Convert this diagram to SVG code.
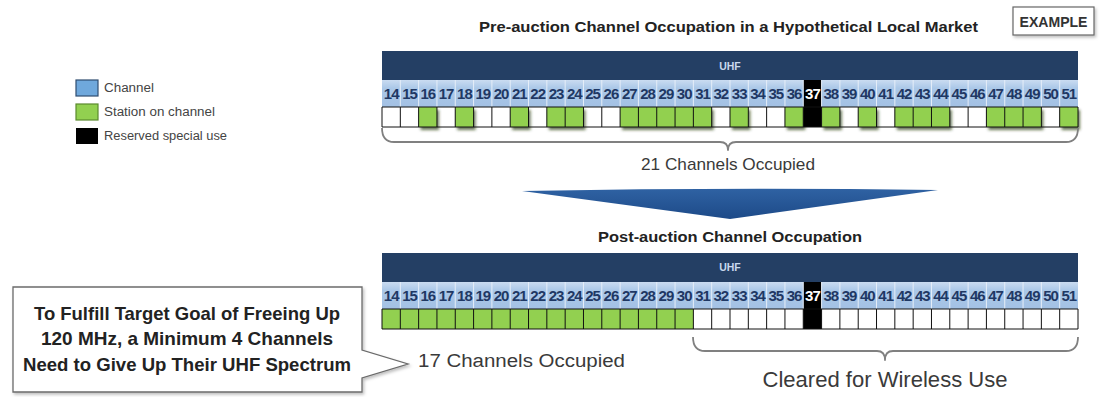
<svg xmlns="http://www.w3.org/2000/svg" xmlns:xlink="http://www.w3.org/1999/xlink" width="1102" height="397" viewBox="0 0 1102 397">
<style>
.title{font-family:"Liberation Sans",Arial,sans-serif;font-weight:bold;font-size:14px;fill:#222}
.num{font-family:"Liberation Sans",Arial,sans-serif;font-weight:bold;font-size:15px;fill:#1f3864;text-anchor:middle;letter-spacing:-1px}
.uhf{font-family:"Liberation Sans",Arial,sans-serif;font-weight:bold;font-size:10.5px;fill:#c9d9ee;text-anchor:middle}
.band{fill:#243f64}
.numrow{fill:url(#numGrad)}
.div{stroke:#e6eef8;stroke-width:1;fill:none}
.cellline{stroke:#111;stroke-width:1;fill:none}
.green{fill:#92d050}
.res{fill:#000}
.brace{fill:none;stroke:#808080;stroke-width:1.8;stroke-linejoin:round}
.lab{font-family:"Liberation Sans",Arial,sans-serif;fill:#3a3a3a;text-anchor:middle}
.leg{font-family:"Liberation Sans",Arial,sans-serif;font-size:12px;fill:#444}
.call{font-family:"Liberation Sans",Arial,sans-serif;font-weight:bold;font-size:18.5px;fill:#222;text-anchor:middle}
</style>
<defs>
<linearGradient id="numGrad" x1="0" y1="0" x2="0" y2="1">
<stop offset="0" stop-color="#cadcf1"/><stop offset="0.3" stop-color="#abc8e8"/><stop offset="1" stop-color="#a3c1e4"/>
</linearGradient>
<linearGradient id="chevGrad" x1="0" y1="0" x2="0" y2="1">
<stop offset="0" stop-color="#2f62a3"/><stop offset="1" stop-color="#1d4a88"/>
</linearGradient>
<filter id="sh" x="-40%" y="-40%" width="200%" height="200%">
<feDropShadow dx="2" dy="3" stdDeviation="1.8" flood-color="#2b3a12" flood-opacity="0.7"/>
</filter>
<filter id="boxsh" x="-10%" y="-10%" width="120%" height="130%">
<feDropShadow dx="1.5" dy="2" stdDeviation="1.5" flood-color="#000" flood-opacity="0.25"/>
</filter>
<path id="numDiv" d="M400.32,0v27M418.63,0v27M436.95,0v27M455.26,0v27M473.58,0v27M491.89,0v27M510.21,0v27M528.53,0v27M546.84,0v27M565.16,0v27M583.47,0v27M601.79,0v27M620.11,0v27M638.42,0v27M656.74,0v27M675.05,0v27M693.37,0v27M711.68,0v27M730,0v27M748.32,0v27M766.63,0v27M784.95,0v27M803.26,0v27M821.58,0v27M839.89,0v27M858.21,0v27M876.53,0v27M894.84,0v27M913.16,0v27M931.47,0v27M949.79,0v27M968.11,0v27M986.42,0v27M1004.74,0v27M1023.05,0v27M1041.37,0v27M1059.68,0v27"/>
<path id="cellLines" d="M400.32,0v20M418.63,0v20M436.95,0v20M455.26,0v20M473.58,0v20M491.89,0v20M510.21,0v20M528.53,0v20M546.84,0v20M565.16,0v20M583.47,0v20M601.79,0v20M620.11,0v20M638.42,0v20M656.74,0v20M675.05,0v20M693.37,0v20M711.68,0v20M730,0v20M748.32,0v20M766.63,0v20M784.95,0v20M803.26,0v20M821.58,0v20M839.89,0v20M858.21,0v20M876.53,0v20M894.84,0v20M913.16,0v20M931.47,0v20M949.79,0v20M968.11,0v20M986.42,0v20M1004.74,0v20M1023.05,0v20M1041.37,0v20M1059.68,0v20M382,0h696v20h-696z"/>
<g id="nums">
<text class="num" x="391.16">14</text><text class="num" x="409.48">15</text><text class="num" x="427.79">16</text><text class="num" x="446.11">17</text><text class="num" x="464.42">18</text><text class="num" x="482.74">19</text><text class="num" x="501.05">20</text><text class="num" x="519.37">21</text><text class="num" x="537.69">22</text><text class="num" x="556">23</text><text class="num" x="574.32">24</text><text class="num" x="592.63">25</text><text class="num" x="610.95">26</text><text class="num" x="629.27">27</text><text class="num" x="647.58">28</text><text class="num" x="665.9">29</text><text class="num" x="684.21">30</text><text class="num" x="702.53">31</text><text class="num" x="720.84">32</text><text class="num" x="739.16">33</text><text class="num" x="757.48">34</text><text class="num" x="775.79">35</text><text class="num" x="794.11">36</text><text class="num" x="812.42" style="fill:#fff">37</text><text class="num" x="830.74">38</text><text class="num" x="849.05">39</text><text class="num" x="867.37">40</text><text class="num" x="885.69">41</text><text class="num" x="904">42</text><text class="num" x="922.32">43</text><text class="num" x="940.63">44</text><text class="num" x="958.95">45</text><text class="num" x="977.27">46</text><text class="num" x="995.58">47</text><text class="num" x="1013.9">48</text><text class="num" x="1032.21">49</text><text class="num" x="1050.53">50</text><text class="num" x="1068.84">51</text>
</g>
</defs>
<rect width="1102" height="397" fill="#fff"/>

<g id="legend">
<rect x="76" y="80" width="22" height="16" fill="#6fa8dc" stroke="#2f4d70" stroke-width="1.2"/>
<text class="leg" x="104" y="92" textLength="50" lengthAdjust="spacingAndGlyphs">Channel</text>
<rect x="76" y="104" width="22" height="16" fill="#92d050" stroke="#5b8a2e" stroke-width="1.2"/>
<text class="leg" x="104" y="116" textLength="111" lengthAdjust="spacingAndGlyphs">Station on channel</text>
<rect x="76" y="128" width="22" height="16" fill="#000"/>
<text class="leg" x="104" y="140" textLength="123" lengthAdjust="spacingAndGlyphs">Reserved special use</text>
</g>

<g id="example-tag">
<rect x="1013" y="7" width="81" height="28" fill="#fff" stroke="#666" stroke-width="1.2" filter="url(#boxsh)"/>
<text class="title" x="1053.5" y="27" text-anchor="middle" textLength="68" lengthAdjust="spacingAndGlyphs" style="fill:#333">EXAMPLE</text>
</g>

<g id="pre-auction">
<text class="title" x="479" y="32" textLength="499" lengthAdjust="spacingAndGlyphs">Pre-auction Channel Occupation in a Hypothetical Local Market</text>
<rect class="band" x="382" y="51" width="696" height="29"/>
<text class="uhf" x="730" y="70">UHF</text>
<rect class="numrow" x="382" y="80" width="696" height="27"/>
<rect class="res" x="803.26" y="80" width="18.32" height="27"/>
<use xlink:href="#numDiv" class="div" transform="translate(0,80)"/>
<use xlink:href="#nums" transform="translate(0,99)"/>
<rect x="382" y="107" width="696" height="20" fill="#fff"/>
<g filter="url(#sh)">
<rect class="green" x="418.63" y="107" width="18.32" height="20"/>
<rect class="green" x="455.26" y="107" width="18.32" height="20"/>
<rect class="green" x="510.21" y="107" width="18.32" height="20"/>
<rect class="green" x="546.84" y="107" width="36.63" height="20"/>
<rect class="green" x="620.11" y="107" width="91.57" height="20"/>
<rect class="green" x="730" y="107" width="18.32" height="20"/>
<rect class="green" x="784.95" y="107" width="18.32" height="20"/>
<rect class="green" x="821.58" y="107" width="18.32" height="20"/>
<rect class="green" x="858.21" y="107" width="18.32" height="20"/>
<rect class="green" x="894.84" y="107" width="54.95" height="20"/>
<rect class="green" x="986.42" y="107" width="54.95" height="20"/>
<rect class="green" x="1059.68" y="107" width="18.32" height="20"/>
</g>
<rect class="res" x="803.26" y="107" width="18.32" height="20"/>
<use xlink:href="#cellLines" class="cellline" transform="translate(0,107)"/>
<path class="brace" d="M382,128Q382,142 394,142H720Q728,142 728,150Q728,142 736,142H1066Q1078,142 1078,128"/>
<text class="lab" x="728" y="170" style="font-size:17px" textLength="174" lengthAdjust="spacingAndGlyphs">21 Channels Occupied</text>
</g>

<g id="transition-arrow">
<path d="M522,191Q730,187 938,190L730,219Z" fill="url(#chevGrad)"/>
</g>

<g id="post-auction">
<text class="title" x="598" y="242" textLength="264" lengthAdjust="spacingAndGlyphs">Post-auction Channel Occupation</text>
<rect class="band" x="382" y="253" width="696" height="29"/>
<text class="uhf" x="730" y="271">UHF</text>
<rect class="numrow" x="382" y="282" width="696" height="27"/>
<rect class="res" x="803.26" y="282" width="18.32" height="27"/>
<use xlink:href="#numDiv" class="div" transform="translate(0,282)"/>
<use xlink:href="#nums" transform="translate(0,301)"/>
<rect x="382" y="309" width="696" height="20" fill="#fff"/>
<rect class="green" x="382" y="309" width="311.37" height="20"/>
<rect class="res" x="803.26" y="309" width="18.32" height="20"/>
<use xlink:href="#cellLines" class="cellline" transform="translate(0,309)"/>
<text class="lab" x="418" y="367" style="font-size:18px;text-anchor:start" textLength="207" lengthAdjust="spacingAndGlyphs">17 Channels Occupied</text>
<path class="brace" d="M693,337Q693,351 705,351H877Q885,351 885,360Q885,351 893,351H1066Q1078,351 1078,337"/>
<text class="lab" x="885" y="387" style="font-size:22px" textLength="245" lengthAdjust="spacingAndGlyphs">Cleared for Wireless Use</text>
</g>

<g id="callout">
<path d="M13,287H362V350L408,364L362,378V392H13Z" fill="#fff" stroke="#6b6b6b" stroke-width="1.3" filter="url(#boxsh)"/>
<text class="call" x="187" y="320" textLength="306" lengthAdjust="spacingAndGlyphs">To Fulfill Target Goal of Freeing Up</text>
<text class="call" x="187" y="345" textLength="292" lengthAdjust="spacingAndGlyphs">120 MHz, a Minimum 4 Channels</text>
<text class="call" x="187" y="371" textLength="328" lengthAdjust="spacingAndGlyphs">Need to Give Up Their UHF Spectrum</text>
</g>
</svg>
